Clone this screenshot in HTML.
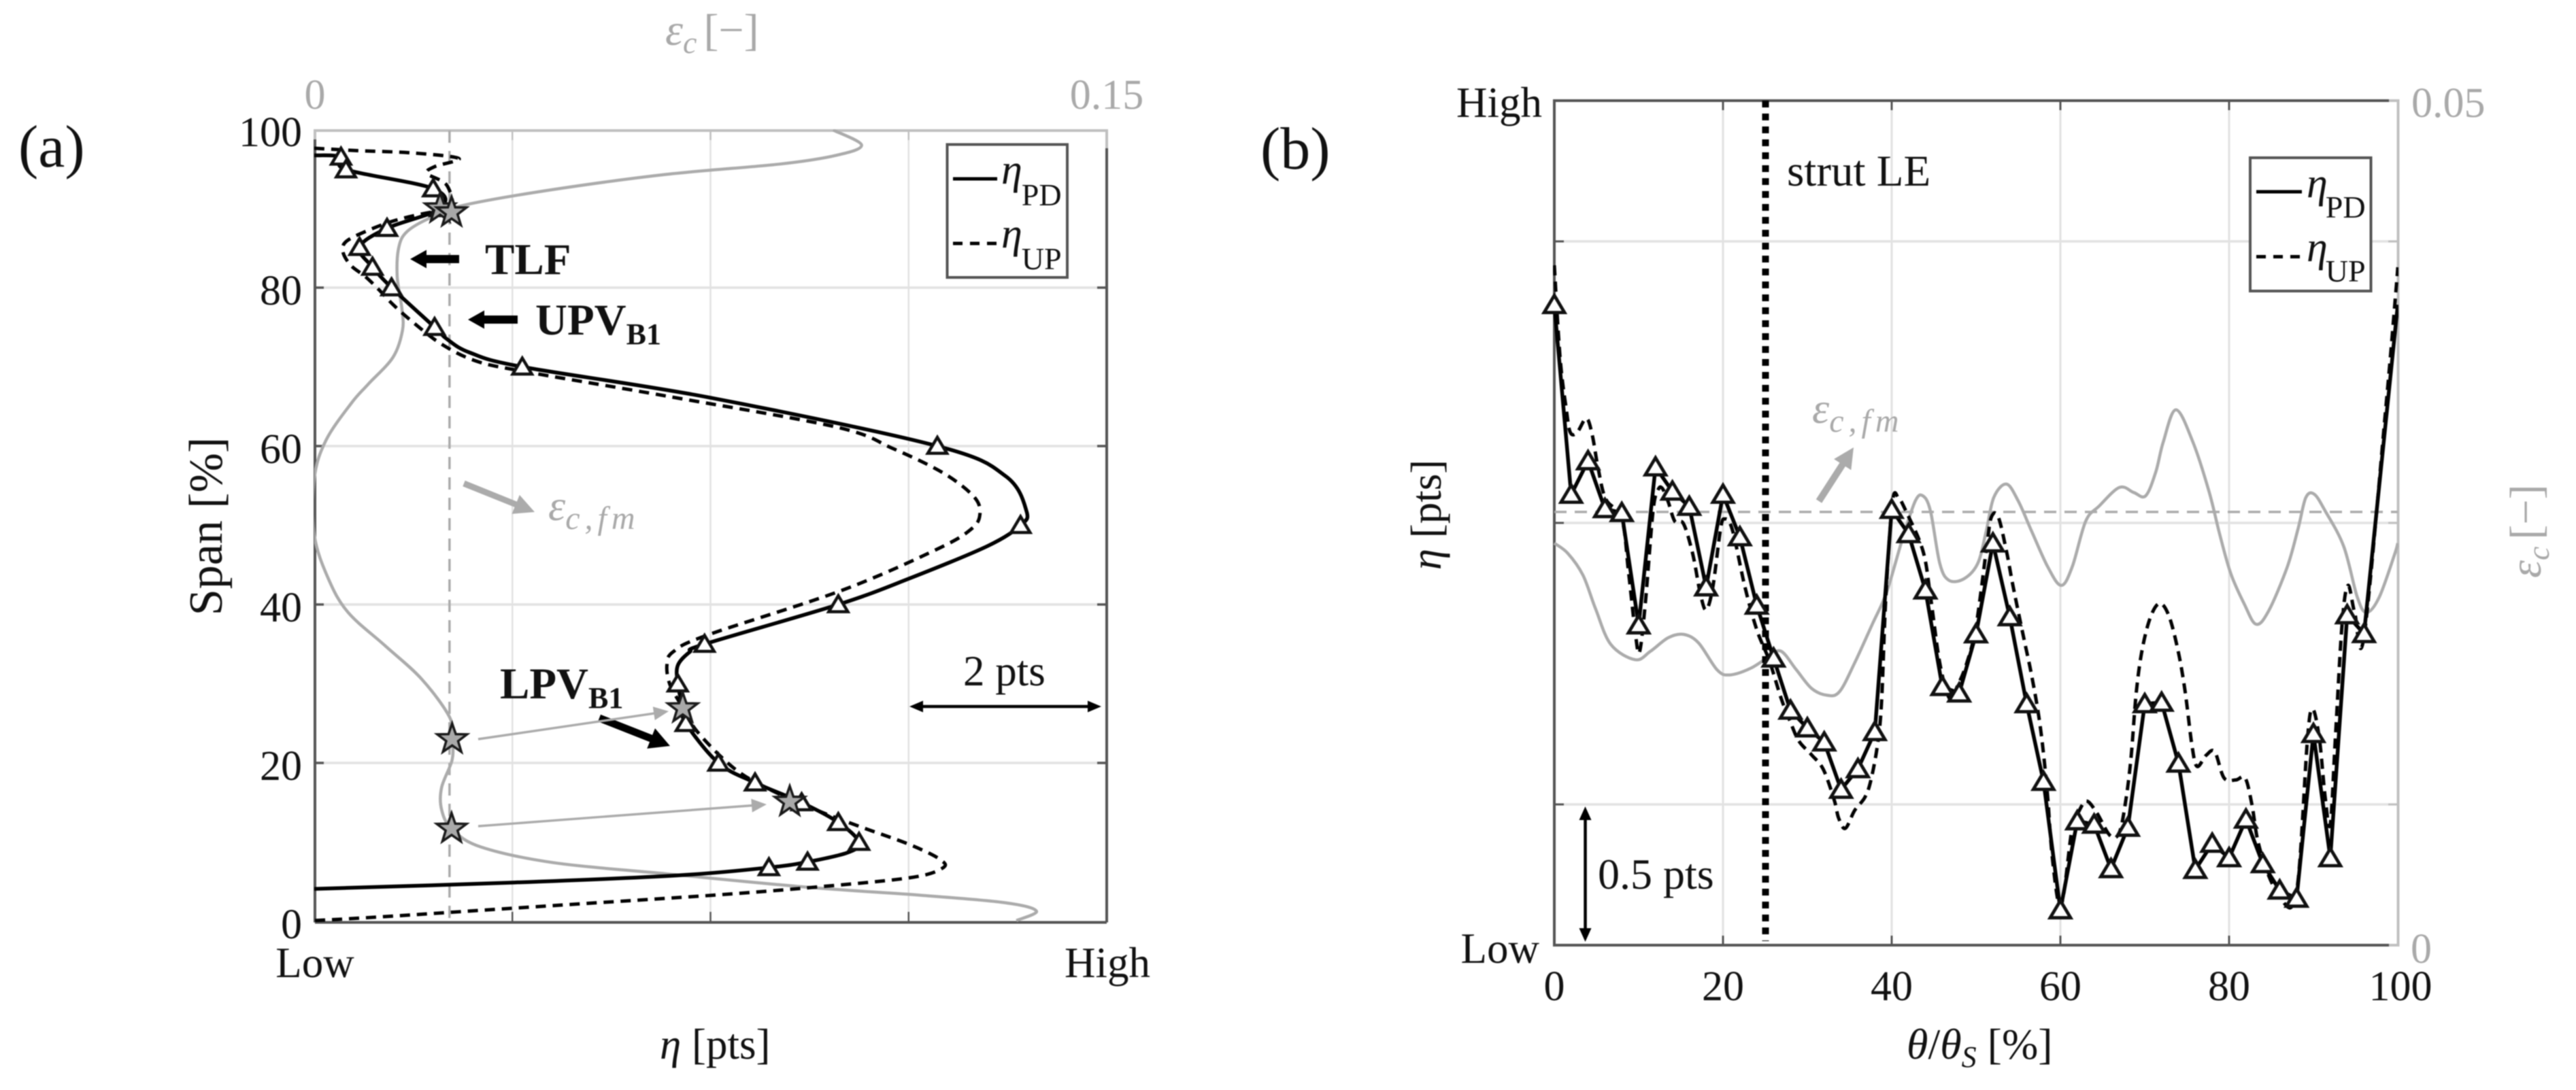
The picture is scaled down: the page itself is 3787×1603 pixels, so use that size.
<!DOCTYPE html>
<html lang="en">
<head>
<meta charset="utf-8">
<title>Span and pitch profiles of eta and epsilon</title>
<style>
html,body{margin:0;padding:0;background:#fff;}
svg{display:block;filter:blur(0.7px);}
text{font-family:"Liberation Serif","DejaVu Serif",serif;fill:#111;}
.g{fill:#a9a9a9;}
.i{font-style:italic;}
</style>
</head>
<body>
<svg id="fig" xmlns="http://www.w3.org/2000/svg" width="3787" height="1603" viewBox="0 0 3787 1603">
<rect x="0" y="0" width="3787" height="1603" fill="#fff"/>
<defs>
<clipPath id="clipA"><rect x="462" y="190" width="1165" height="1166"/></clipPath>
<clipPath id="clipB"><rect x="2283" y="148" width="1243" height="1242"/></clipPath>
</defs>
<g id="panelA"></g>
<g id="panelB"></g>

<text x="27" y="245" font-size="88">(a)</text>
<text x="1853" y="248" font-size="88">(b)</text>

<text x="970" y="1557" font-size="63"><tspan class="i">η</tspan> [pts]</text>
<text transform="translate(326,774) rotate(-90)" text-anchor="middle" font-size="70">Span [%]</text>
<text class="g" x="978" y="66" font-size="66"><tspan class="i g">ε</tspan><tspan class="i g" font-size="46" dy="12">c</tspan><tspan class="g" dy="-12" dx="10">[−]</tspan></text>

<text x="713" y="403" font-size="65" font-weight="bold">TLF</text>
<text x="787" y="492" font-size="65" font-weight="bold">UPV<tspan font-size="44" dy="14">B1</tspan></text>
<text x="735" y="1027" font-size="65" font-weight="bold">LPV<tspan font-size="44" dy="14">B1</tspan></text>
<text class="g" x="806" y="765" font-size="64"><tspan class="i g">ε</tspan><tspan class="i g" font-size="48" dy="13" letter-spacing="7">c,fm</tspan></text>
<text x="1416" y="1008" font-size="63">2 pts</text>

<rect x="1392.5" y="212.5" width="176.5" height="195.5" fill="#fff" stroke="#555" stroke-width="4"/>
<line x1="1401" y1="263" x2="1466" y2="263" stroke="#000" stroke-width="5"/>
<line x1="1401" y1="358" x2="1466" y2="358" stroke="#000" stroke-width="5" stroke-dasharray="14 11"/>
<text x="1472" y="270" font-size="62"><tspan class="i">η</tspan><tspan font-size="46" dy="32" dx="-1">PD</tspan></text>
<text x="1472" y="364" font-size="62"><tspan class="i">η</tspan><tspan font-size="46" dy="32" dx="-1">UP</tspan></text>

<text x="2803" y="1557" font-size="64"><tspan class="i">θ</tspan>/<tspan class="i">θ</tspan><tspan class="i" font-size="44" dy="12">S</tspan><tspan dy="-12"> [%]</tspan></text>
<text transform="translate(2118,757) rotate(-90)" text-anchor="middle" font-size="63"><tspan class="i">η</tspan> [pts]</text>
<text class="g" transform="translate(3735,850) rotate(-90)" font-size="66"><tspan class="i g">ε</tspan><tspan class="i g" font-size="46" dy="12">c</tspan><tspan class="g" dy="-12" dx="10">[−]</tspan></text>

<text x="2627" y="273" font-size="65">strut LE</text>
<text class="g" x="2664" y="622" font-size="64"><tspan class="i g">ε</tspan><tspan class="i g" font-size="48" dy="13" letter-spacing="7">c,fm</tspan></text>
<text x="2349" y="1307" font-size="64">0.5 pts</text>

<rect x="3308" y="232" width="177.5" height="196" fill="#fff" stroke="#555" stroke-width="4"/>
<line x1="3317" y1="282" x2="3384" y2="282" stroke="#000" stroke-width="5"/>
<line x1="3317" y1="377.5" x2="3384" y2="377.5" stroke="#000" stroke-width="5" stroke-dasharray="14 11"/>
<text x="3391" y="290" font-size="62"><tspan class="i">η</tspan><tspan font-size="46" dy="30" dx="-3">PD</tspan></text>
<text x="3391" y="384" font-size="62"><tspan class="i">η</tspan><tspan font-size="46" dy="30" dx="-3">UP</tspan></text>
</svg>

<script>
// ---------- Panel (a) data: span [%], eta [pts], epsilon [-] ----------
var spanTicksA = [20, 40, 60, 80];
var spanLabelsA = [0, 20, 40, 60, 80, 100];
var etaTicksA = [2, 4, 6];
var epsRefA = 0.0256;

var spanPD_A = [96.7,96.5,94.9,92.5,90,87.5,85.1,82.6,80,75,73.5,71.8,70,66.1,60,56.2,51.8,50,47.4,43.3,40,35,34,32.3,30,26.9,25,20,17.5,15,12.5,10,8.7,7.5,6.8,5.8,4.9,4.1];
var etaPD_A = [0,0.27,0.32,1.2,1.27,0.735,0.457,0.588,0.78,1.215,1.34,1.57,2.1,4.0,6.29,6.98,7.19,7.13,6.8,6.01,5.29,3.94,3.79,3.67,3.67,3.72,3.75,4.08,4.45,4.92,5.29,5.5,5.39,4.98,4.59,3.67,2.02,0];

var spanUP_A = [97.6,97.3,97,96.3,95.3,94.4,92.9,89.7,89.5,88.5,87.1,85.8,84.5,82.8,81.4,79.7,77.8,75.6,72.9,70.8,69.5,66.3,62.4,59.7,56.6,53.6,51.4,49.5,47,41.8,36.1,34,32.3,29.9,27.4,23.9,19.3,16.7,14.2,12,9.7,7.8,6.7,5.5,4.3,3.3,2,0.6,0.1];
var etaUP_A = [0,0.43,1.0,1.46,1.22,1.14,1.34,1.39,1.17,0.82,0.52,0.32,0.29,0.37,0.515,0.656,0.8,1.0,1.28,1.62,2.08,3.56,5.27,5.84,6.35,6.66,6.72,6.63,6.29,5.33,3.96,3.62,3.56,3.59,3.7,3.87,4.24,4.59,5.04,5.5,6.01,6.32,6.34,6.01,5.04,4.02,2.42,0.71,0];

var spanEps_A = [99.9,98,96.7,95.6,94.3,92.4,90.4,88.8,87.1,85.1,81.4,77.3,74.6,71.2,67.8,65.4,60.7,55.9,48.8,43.2,39,34.8,30.6,25.8,23,20.4,16.9,14.1,11.7,9.4,7.4,6,4.3,3.3,2.35,1.3,0.1];
var eps_A = [0.0982,0.1036,0.0988,0.0881,0.0667,0.0454,0.0283,0.0219,0.0176,0.0160,0.0157,0.0166,0.0167,0.0149,0.0102,0.0070,0.0022,0,0,0.0027,0.0064,0.0134,0.0203,0.0256,0.0261,0.0261,0.0241,0.0241,0.0260,0.0315,0.0454,0.0667,0.0935,0.1148,0.1308,0.1367,0.1329];

var markerSpan_A = [96.5,94.9,92.5,90,87.5,85.1,82.6,80,75,70,60,50,40,35,30,25,20,17.5,15,12.5,10,7.5,6.8];
var markerEta_A = [0.27,0.32,1.2,1.27,0.735,0.457,0.588,0.78,1.215,2.1,6.29,7.13,5.29,3.94,3.67,3.75,4.08,4.45,4.92,5.29,5.5,4.98,4.59];

var starSpanEta_A = [90,26.9,15.1];
var starEta_A = [1.27,3.72,4.8];
var starSpanEps_A = [89.5,23,11.7];
var starEps_A = [0.026,0.0261,0.026];

// ---------- Panel (b) data: theta/theta_S [%], eta [pts], epsilon [-] ----------
var thetaTicksB = [20, 40, 60, 80];
var thetaLabelsB = [0, 20, 40, 60, 80, 100];
var etaTicksB = [0.5, 1.5, 2.5];
var strutTheta = 25.04;
var epsRefB = 0.02565;

var thetaPD_B = [0,2,4,6,8,10,12,14,16,18,20,22,24,26,28,30,32,34,36,38,40,42,44,46,48,50,52,54,56,58,60,62,64,66,68,70,72,74,76,78,80,82,84,86,88,90,92,94,96,100];
var etaPD_B = [2.275,1.601,1.720,1.550,1.536,1.137,1.698,1.612,1.558,1.272,1.601,1.450,1.207,1.019,0.834,0.771,0.721,0.553,0.626,0.758,1.547,1.461,1.261,0.918,0.895,1.105,1.428,1.166,0.857,0.581,0.125,0.441,0.429,0.271,0.418,0.857,0.862,0.646,0.268,0.361,0.310,0.447,0.289,0.195,0.166,0.751,0.310,1.173,1.106,2.275];
var markerCountB = 49;

var thetaUP_B = [0,0.7,1.44,1.9,2.7,3.8,4.5,5.2,6.1,8,8.8,9.6,10.1,10.8,11.7,12.3,12.8,13.5,14.3,15.3,16.4,17.3,18,18.8,19.7,20.2,21.1,22.6,24,25.5,26.9,28,29,30.5,31.9,33.2,33.7,34.5,35.6,36.8,37.5,38.3,38.8,39.3,40.1,40.8,41.7,43.7,44.6,45.7,46.9,47.8,48.9,50,51.3,51.8,52.6,53.6,54.4,55.7,56.6,57.6,58.4,59,59.8,60.4,61.4,62.2,63.1,64.3,65.9,67,67.8,68.4,69,69.7,70.7,71.8,72.9,74,74.8,75.6,76.2,77.3,78.3,79.4,80.8,81.9,82.7,83.4,84.6,85.9,87.4,88.3,89.3,89.9,90.7,91.4,92,92.6,93.4,94.1,94.9,96,98.6,99.8,100];
var etaUP_B = [2.415,2.081,1.899,1.821,1.821,1.871,1.812,1.693,1.585,1.514,1.326,1.111,1.041,1.217,1.541,1.617,1.623,1.575,1.505,1.498,1.391,1.251,1.191,1.273,1.477,1.514,1.477,1.273,1.121,1.01,0.876,0.792,0.725,0.676,0.624,0.514,0.452,0.415,0.478,0.524,0.582,0.708,0.865,1.232,1.575,1.589,1.541,1.401,1.239,1.002,0.874,0.921,1.002,1.133,1.423,1.519,1.524,1.401,1.273,1.085,0.957,0.78,0.558,0.324,0.147,0.184,0.418,0.476,0.512,0.471,0.389,0.401,0.523,0.675,0.899,1.051,1.167,1.214,1.167,1.039,0.899,0.71,0.635,0.675,0.687,0.594,0.587,0.594,0.5,0.371,0.254,0.178,0.136,0.266,0.734,0.839,0.734,0.523,0.43,0.734,1.143,1.278,1.179,1.097,1.914,2.331,2.408];

var thetaEps_B = [0,1.6,3.4,4.9,6.7,9.6,11.4,13.5,15.3,17.1,19.3,20.8,23.3,25.5,26.9,28.7,30.5,32.3,33.8,35.6,37.7,39.4,41.3,42.8,43.7,44.6,45.7,46.8,48.6,50.2,51.2,52.1,53.6,55,56.6,58.5,60.1,61.4,63,64.6,67,68.7,70.1,71.3,72.2,73.7,75.7,77.6,78.9,80.2,81.8,83.2,84.7,86.9,88.2,89.1,90.1,91.4,93.6,95.2,96.3,97.8,99.6,100];
var eps_B = [0.0238,0.0232,0.0219,0.0199,0.0178,0.0169,0.0174,0.0182,0.0184,0.0179,0.0163,0.0160,0.0164,0.0171,0.0174,0.0163,0.0152,0.0148,0.0150,0.0167,0.0190,0.0209,0.0241,0.0263,0.0266,0.0257,0.0226,0.0216,0.0217,0.0226,0.0245,0.0265,0.0273,0.0263,0.0245,0.0224,0.0213,0.0224,0.0251,0.0260,0.0271,0.0268,0.0266,0.0280,0.0298,0.0317,0.0298,0.0269,0.0243,0.0220,0.0202,0.0190,0.0198,0.0224,0.0247,0.0265,0.0267,0.0257,0.0236,0.0206,0.0197,0.0206,0.0231,0.0238];

// ---------- Axis functions ----------
var ETA_MAX_A = 8, EPS_MAX_A = 0.15, ETA_MAX_B = 3, EPS_MAX_B = 0.05;
function xEtaA(v){ return 462 + v / ETA_MAX_A * 1165; }
function xEpsA(e){ return 462 + e / EPS_MAX_A * 1165; }
function ySpanA(s){ return 1355 - s / 100 * 1165; }
function xThetaB(t){ return 2285 + t / 100 * 1240; }
function yEtaB(v){ return 1390 - v / ETA_MAX_B * 1242; }
function yEpsB(e){ return 1390 - e / EPS_MAX_B * 1242; }

// ---------- Drawing helpers ----------
var NS = 'http://www.w3.org/2000/svg';
function make(parent, tag, props){
  var el = document.createElementNS(NS, tag);
  for (var k in props) el.setAttribute(k, props[k]);
  parent.appendChild(el);
  return el;
}
function linePath(pts){
  return pts.map(function(p, i){ return (i ? 'L' : 'M') + p[0].toFixed(1) + ' ' + p[1].toFixed(1); }).join('');
}
function smoothPath(pts){
  var d = 'M' + pts[0][0].toFixed(1) + ' ' + pts[0][1].toFixed(1);
  for (var i = 0; i < pts.length - 1; i++){
    var p0 = pts[Math.max(i - 1, 0)], p1 = pts[i], p2 = pts[i + 1], p3 = pts[Math.min(i + 2, pts.length - 1)];
    var c1x = p1[0] + (p2[0] - p0[0]) / 6, c1y = p1[1] + (p2[1] - p0[1]) / 6;
    var c2x = p2[0] - (p3[0] - p1[0]) / 6, c2y = p2[1] - (p3[1] - p1[1]) / 6;
    d += 'C' + c1x.toFixed(1) + ' ' + c1y.toFixed(1) + ' ' + c2x.toFixed(1) + ' ' + c2y.toFixed(1) + ' ' + p2[0].toFixed(1) + ' ' + p2[1].toFixed(1);
  }
  return d;
}
function trianglePoints(x, y, s){
  return (x).toFixed(1) + ',' + (y - 11.5 * s).toFixed(1) + ' ' + (x + 12.5 * s).toFixed(1) + ',' + (y + 9.5 * s).toFixed(1) + ' ' + (x - 12.5 * s).toFixed(1) + ',' + (y + 9.5 * s).toFixed(1);
}
function starPoints(x, y, R){
  var out = [];
  for (var i = 0; i < 10; i++){
    var r = i % 2 ? R * 0.4 : R;
    var a = -Math.PI / 2 + i * Math.PI / 5;
    out.push((x + r * Math.cos(a)).toFixed(1) + ',' + (y + r * Math.sin(a)).toFixed(1));
  }
  return out.join(' ');
}
function arrowPoints(x1, y1, x2, y2, w, hl, hw){
  var L = Math.hypot(x2 - x1, y2 - y1), ux = (x2 - x1) / L, uy = (y2 - y1) / L, nx = -uy, ny = ux;
  var bx = x2 - ux * hl, by = y2 - uy * hl;
  var p = [
    [x1 + nx * w / 2, y1 + ny * w / 2], [bx + nx * w / 2, by + ny * w / 2], [bx + nx * hw / 2, by + ny * hw / 2],
    [x2, y2],
    [bx - nx * hw / 2, by - ny * hw / 2], [bx - nx * w / 2, by - ny * w / 2], [x1 - nx * w / 2, y1 - ny * w / 2]
  ];
  return p.map(function(q){ return q[0].toFixed(1) + ',' + q[1].toFixed(1); }).join(' ');
}
function pairs(xs, ys, fx, fy){
  return xs.map(function(x, i){ return [fx(x), fy(ys[i])]; });
}

var AXIS = '#555', GRID = '#e2e2e2', GRAY = '#ababab', LIGHT = '#c0c0c0';
var A = document.getElementById('panelA');
var B = document.getElementById('panelB');
var el;

// ---------- Panel (a) ----------
etaTicksA.forEach(function(v){
  el = make(A, 'line', {x1: xEtaA(v), y1: 192, x2: xEtaA(v), y2: 1355, stroke: GRID, 'stroke-width': 2.5});
  
  
  el = make(A, 'line', {x1: xEtaA(v), y1: 1341, x2: xEtaA(v), y2: 1355, stroke: AXIS, 'stroke-width': 2.5});
  
  
  el = make(A, 'line', {x1: xEtaA(v), y1: 192, x2: xEtaA(v), y2: 206, stroke: LIGHT, 'stroke-width': 2.5});
  
  
});
spanTicksA.forEach(function(s){
  el = make(A, 'line', {x1: 462, y1: ySpanA(s), x2: 1627, y2: ySpanA(s), stroke: GRID, 'stroke-width': 3.5});
  
  
  el = make(A, 'line', {x1: 462, y1: ySpanA(s), x2: 476, y2: ySpanA(s), stroke: AXIS, 'stroke-width': 3.5});
  
  
  el = make(A, 'line', {x1: 1613, y1: ySpanA(s), x2: 1627, y2: ySpanA(s), stroke: AXIS, 'stroke-width': 3.5});
  
  
});
el = make(A, 'path', {d: 'M463 1356.5H1627M463 205V1356.5M1627 218V1356.5', fill: 'none', stroke: AXIS, 'stroke-width': 4});


el = make(A, 'path', {d: 'M463 205V192H1627V218', fill: 'none', stroke: LIGHT, 'stroke-width': 4});



var clipA = make(A, 'g', {'clip-path': 'url(#clipA)'});



el = make(clipA, 'line', {x1: xEpsA(epsRefA), y1: 192, x2: xEpsA(epsRefA), y2: 1356, stroke: GRAY, 'stroke-width': 3.5, 'stroke-dasharray': '18 12'});


el = make(clipA, 'path', {d: smoothPath(pairs(eps_A, spanEps_A, xEpsA, ySpanA)), fill: 'none', stroke: GRAY, 'stroke-width': 4.5});


el = make(clipA, 'path', {d: smoothPath(pairs(etaUP_A, spanUP_A, xEtaA, ySpanA)), fill: 'none', stroke: '#000', 'stroke-width': 5, 'stroke-dasharray': '15 10'});


el = make(clipA, 'path', {d: smoothPath(pairs(etaPD_A, spanPD_A, xEtaA, ySpanA)), fill: 'none', stroke: '#000', 'stroke-width': 5.5});



markerEta_A.forEach(function(v, i){
  el = make(A, 'polygon', {points: trianglePoints(xEtaA(v), ySpanA(markerSpan_A[i]), 1.12), fill: '#fff', stroke: '#111', 'stroke-width': 4.5});
  
  
});
starEta_A.forEach(function(v, i){
  el = make(A, 'polygon', {points: starPoints(xEtaA(v), ySpanA(starSpanEta_A[i]), 23), fill: '#a9a9a9', stroke: '#1a1a1a', 'stroke-width': 3.5});
  
  
});
starEps_A.forEach(function(e, i){
  el = make(A, 'polygon', {points: starPoints(xEpsA(e), ySpanA(starSpanEps_A[i]), 23), fill: '#a9a9a9', stroke: '#1a1a1a', 'stroke-width': 3.5});
  
  
});

spanLabelsA.forEach(function(s){
  el = make(A, 'text', {x: 444, y: ySpanA(s) + 25, 'font-size': 62, 'text-anchor': 'end'});
  el.textContent = String(s);
  
  
});
el = make(A, 'text', {x: 463, y: 1437, 'font-size': 63, 'text-anchor': 'middle'});
el.textContent = 'Low';


el = make(A, 'text', {x: 1628, y: 1437, 'font-size': 63, 'text-anchor': 'middle'});
el.textContent = 'High';


el = make(A, 'text', {x: 463, y: 160, 'font-size': 62, 'text-anchor': 'middle', 'class': 'g'});
el.textContent = '0';


el = make(A, 'text', {x: 1627, y: 160, 'font-size': 62, 'text-anchor': 'middle', 'class': 'g'});
el.textContent = '0.15';



el = make(A, 'polygon', {points: arrowPoints(675, 381, 603, 381, 12, 24, 27), fill: '#000'});


el = make(A, 'polygon', {points: arrowPoints(761, 470, 688, 470, 12, 24, 27), fill: '#000'});


el = make(A, 'polygon', {points: arrowPoints(881, 1056, 985, 1097, 11, 30, 32), fill: '#000'});


el = make(A, 'polygon', {points: arrowPoints(682, 711, 786, 753, 9, 30, 30), fill: GRAY});


el = make(A, 'polygon', {points: arrowPoints(703, 1087, 983, 1046, 3.5, 22, 20), fill: GRAY});


el = make(A, 'polygon', {points: arrowPoints(703, 1215, 1127, 1183, 3.5, 22, 20), fill: GRAY});


el = make(A, 'polygon', {points: arrowPoints(1357, 1039, 1337, 1039, 4.5, 20, 17), fill: '#000'});


el = make(A, 'polygon', {points: arrowPoints(1350, 1039, 1619, 1039, 4.5, 20, 17), fill: '#000'});



// ---------- Panel (b) ----------
thetaTicksB.forEach(function(t){
  el = make(B, 'line', {x1: xThetaB(t), y1: 148, x2: xThetaB(t), y2: 1390, stroke: GRID, 'stroke-width': 3});
  
  
  el = make(B, 'line', {x1: xThetaB(t), y1: 1376, x2: xThetaB(t), y2: 1390, stroke: AXIS, 'stroke-width': 3});
  
  
  el = make(B, 'line', {x1: xThetaB(t), y1: 148, x2: xThetaB(t), y2: 162, stroke: AXIS, 'stroke-width': 3});
  
  
});
etaTicksB.forEach(function(v){
  el = make(B, 'line', {x1: 2285, y1: yEtaB(v), x2: 3525, y2: yEtaB(v), stroke: GRID, 'stroke-width': 3.5});
  
  
  el = make(B, 'line', {x1: 2285, y1: yEtaB(v), x2: 2299, y2: yEtaB(v), stroke: AXIS, 'stroke-width': 3});
  
  
  el = make(B, 'line', {x1: 3511, y1: yEtaB(v), x2: 3525, y2: yEtaB(v), stroke: LIGHT, 'stroke-width': 3});
  
  
});
el = make(B, 'path', {d: 'M3512 148H3525.5V1390H3512', fill: 'none', stroke: LIGHT, 'stroke-width': 4});


el = make(B, 'path', {d: 'M3512 148H2285V1390H3512', fill: 'none', stroke: AXIS, 'stroke-width': 4});



var clipB = make(B, 'g', {'clip-path': 'url(#clipB)'});



el = make(clipB, 'line', {x1: 2285, y1: yEpsB(epsRefB), x2: 3525, y2: yEpsB(epsRefB), stroke: GRAY, 'stroke-width': 3.5, 'stroke-dasharray': '18 12'});


el = make(clipB, 'path', {d: smoothPath(pairs(thetaEps_B, eps_B, xThetaB, yEpsB)), fill: 'none', stroke: GRAY, 'stroke-width': 4.5});


el = make(clipB, 'line', {x1: xThetaB(strutTheta), y1: 148, x2: xThetaB(strutTheta), y2: 1384, stroke: '#000', 'stroke-width': 10, 'stroke-dasharray': '10 9'});


el = make(clipB, 'path', {d: smoothPath(pairs(thetaUP_B, etaUP_B, xThetaB, yEtaB)), fill: 'none', stroke: '#000', 'stroke-width': 5, 'stroke-dasharray': '15 9'});


el = make(clipB, 'path', {d: linePath(pairs(thetaPD_B, etaPD_B, xThetaB, yEtaB)), fill: 'none', stroke: '#000', 'stroke-width': 5.5});



etaPD_B.slice(0, markerCountB).forEach(function(v, i){
  el = make(B, 'polygon', {points: trianglePoints(xThetaB(thetaPD_B[i]), yEtaB(v), 1.2), fill: '#fff', stroke: '#111', 'stroke-width': 4.8});
  
  
});

thetaLabelsB.forEach(function(t){
  el = make(B, 'text', {x: xThetaB(t) + (t === 100 ? 4 : 0), y: 1471, 'font-size': 62, 'text-anchor': 'middle'});
  el.textContent = String(t);
  
  
});
el = make(B, 'text', {x: 2267, y: 172, 'font-size': 63, 'text-anchor': 'end'});
el.textContent = 'High';


el = make(B, 'text', {x: 2263, y: 1416, 'font-size': 63, 'text-anchor': 'end'});
el.textContent = 'Low';


el = make(B, 'text', {x: 3545, y: 172, 'font-size': 62, 'class': 'g'});
el.textContent = '0.05';


el = make(B, 'text', {x: 3544, y: 1416, 'font-size': 62, 'class': 'g'});
el.textContent = '0';



el = make(B, 'polygon', {points: arrowPoints(2674, 737, 2725, 658, 10, 30, 30), fill: GRAY});


el = make(B, 'polygon', {points: arrowPoints(2330.5, 1206, 2330.5, 1186, 4.5, 20, 18), fill: '#000'});


el = make(B, 'polygon', {points: arrowPoints(2330.5, 1200, 2330.5, 1385, 4.5, 20, 18), fill: '#000'});


</script>
</body>
</html>
